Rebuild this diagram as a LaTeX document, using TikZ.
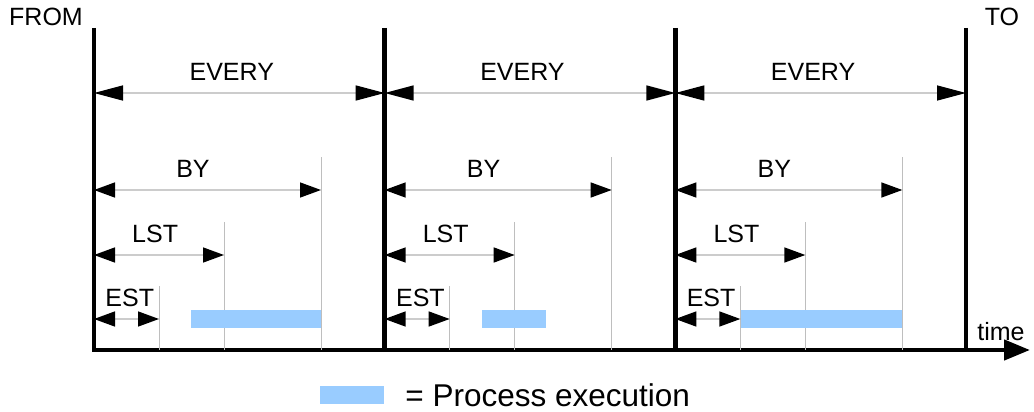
\documentclass[tikz,border=0pt]{standalone}
\usepackage{fontspec}
\setmainfont{Liberation Sans}
\usetikzlibrary{arrows.meta,positioning}
\definecolor{runblue}{HTML}{99CCFF}
\definecolor{spangray}{HTML}{CCCCCC}
\definecolor{markgray}{HTML}{BEBEBE}
\tikzset{
	short/.tip={Triangle[length=21pt,width=15pt,color=black]},
	long/.tip={Triangle[length=29pt,width=15pt,color=black]},
	bound/.style={line width=4.5pt},
	interval/.style={draw=spangray, line width=1.5pt, short-short},
	period/.style={draw=spangray, line width=1.5pt, long-long},
	marker/.style={draw=markgray, line width=1pt},
	run/.style={fill=runblue, draw=none, minimum height=18pt, inner sep=0pt},
	lbl/.style={above=12pt, inner sep=0pt}
}

\begin{document}
\begin{tikzpicture}[x=1pt, y=-1pt, font=\fontsize{25}{28}\selectfont]
	\useasboundingbox (0,0) rectangle (1034,412);

	% period boundaries and the time axis
	\foreach \i [evaluate=\i as \x using 94+290.67*\i] in {0,...,3}{
		\coordinate (top\i) at (\x,28);
		\coordinate (bot\i) at (\x,350);
		\draw[bound] (top\i) -- (bot\i);
	}
	\coordinate (axis0) at (92,350);
	\coordinate (axis1) at (1030,350);
	\draw[line width=4.5pt, -{Triangle[length=26pt,width=20pt]}] (axis0) -- (axis1);
	\node (time) at (1001,332) {time};
	\node (from) at (46,17) {FROM};
	\node (to) at (1002,17) {TO};

	% EVERY / BY / LST / EST inside each period
	\foreach \i/\a/\b [evaluate=\i as \x using 94+290.67*\i] in {0/97/227, 1/97/161, 2/65/226}{
		\coordinate (ev\i) at (\x,93);
		\coordinate (by\i) at (\x,190);
		\coordinate (lst\i) at (\x,255);
		\coordinate (est\i) at (\x,319);
		\coordinate (evend\i) at (\x+290.67,93);
		\coordinate (byend\i) at (\x+227,190);
		\coordinate (lstend\i) at (\x+130,255);
		\coordinate (estend\i) at (\x+65,319);
		\coordinate (bytop\i) at (\x+227,157);
		\coordinate (lsttop\i) at (\x+130,222);
		\coordinate (esttop\i) at (\x+65,286);
		\draw[marker] (bytop\i) -- (bytop\i |- bot0);
		\draw[marker] (lsttop\i) -- (lsttop\i |- bot0);
		\draw[marker] (esttop\i) -- (esttop\i |- bot0);
		\draw[period] (ev\i) -- node[lbl, pos=0.474] {EVERY} (evend\i);
		\draw[interval] (by\i) -- node[lbl, pos=0.436] {BY} (byend\i);
		\draw[interval] (lst\i) -- node[lbl, pos=0.47] {LST} (lstend\i);
		\draw[interval] (est\i) -- node[lbl, pos=0.55] {EST} (estend\i);
		\node[run, minimum width=\b pt-\a pt, anchor=west] (run\i) at (\x+\a,319) {};
	}

	% legend
	\node[run, minimum width=64pt] (key) at (352,395) {};
	\node[right=21pt of key, inner sep=0pt, font=\fontsize{31.5}{35}\selectfont] (keytext) {= Process execution};
\end{tikzpicture}
\end{document}
